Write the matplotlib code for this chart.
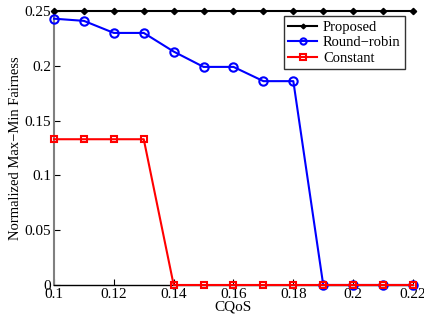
import matplotlib
matplotlib.use("Agg")
import matplotlib.pyplot as plt

cqos = [0.10, 0.11, 0.12, 0.13, 0.14, 0.15, 0.16, 0.17, 0.18, 0.19, 0.20, 0.21, 0.22]
proposed = [0.25] * 13
round_robin = [0.243, 0.241, 0.230, 0.230, 0.213, 0.199, 0.199, 0.186, 0.186, 0.0, 0.0, 0.0, 0.0]
constant = [0.133, 0.133, 0.133, 0.133, 0.0, 0.0, 0.0, 0.0, 0.0, 0.0, 0.0, 0.0, 0.0]
xticks = [0.1, 0.12, 0.14, 0.16, 0.18, 0.2, 0.22]
xticklabels = ["0.1", "0.12", "0.14", "0.16", "0.18", "0.2", "0.22"]
yticks = [0, 0.05, 0.1, 0.15, 0.2, 0.25]
yticklabels = ["0", "0.05", "0.1", "0.15", "0.2", "0.25"]

plt.rcParams['font.family'] = ['Liberation Serif', 'DejaVu Serif']
fig = plt.figure(figsize=(4.24, 3.2), dpi=100)
ax = fig.add_axes([0.1274, 0.1094, 0.8466, 0.8562])

ax.plot(cqos, proposed, color='black', marker='D', markersize=3.2, lw=1.5, label='Proposed', clip_on=False, zorder=3)
ax.plot(cqos, round_robin, color='#0000ff', marker='o', markersize=6, mfc='none', mew=1.5, lw=1.5, label='Round\u2212robin', clip_on=False, zorder=3)
ax.plot(cqos, constant, color='#ff0000', marker='s', markersize=5, mfc='none', mew=1.5, lw=1.5, label='Constant', clip_on=False, zorder=4)

ax.set_xlim(0.1, 0.22)
ax.set_ylim(0, 0.25)
ax.set_xticks(xticks)
ax.set_xticklabels(xticklabels)
ax.set_yticks(yticks)
ax.set_yticklabels(yticklabels)
ax.tick_params(direction='in', labelsize=11, length=4, pad=2)
ax.spines['top'].set_visible(False)
ax.spines['right'].set_visible(False)
ax.spines['left'].set_color('#808080')
ax.spines['left'].set_linewidth(1.5)
ax.spines['bottom'].set_linewidth(1.0)
ax.set_xlabel('CQoS', fontsize=11, labelpad=0)
ax.set_ylabel('Normalized Max\u2212Min Fairness', fontsize=10.5, labelpad=2)

leg = ax.legend(loc='upper right', bbox_to_anchor=(0.978, 0.98), fontsize=10.5, frameon=True, fancybox=False,
                edgecolor='black', borderpad=0.3, labelspacing=0.15, handlelength=2.0, handletextpad=0.4,
                borderaxespad=0, markerscale=0.75)
leg.get_frame().set_linewidth(1.0)

fig.savefig('out.png', dpi=100)
